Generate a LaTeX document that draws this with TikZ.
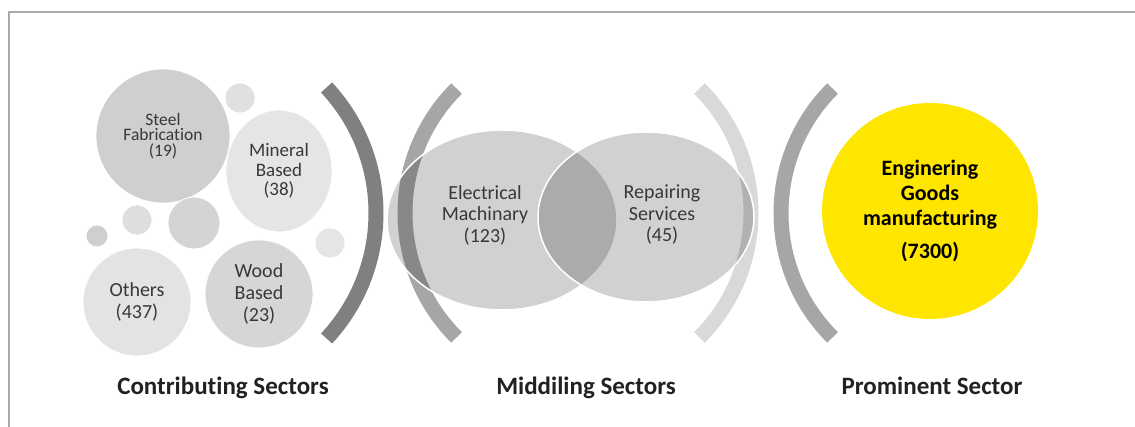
\documentclass[tikz,border=0pt]{standalone}
\usepackage{fontspec}
\setmainfont{Carlito}[Ligatures=NoCommon]
\usetikzlibrary{shapes.geometric}
\definecolor{goods yellow}{RGB}{255,230,0}
\begin{document}
\begin{tikzpicture}
  [x=1pt,y=1pt,
   bubble/.style={circle,draw=white,line width=0.8pt,inner sep=0pt,
     text=black!78,align=center,font=\fontsize{20}{22}\selectfont},
   bracket/.style={line width=15pt},
   venn/.style={ellipse,draw=white,line width=1.5pt,inner sep=0pt,
     fill=black,fill opacity=0.18},
   venn text/.style={text=black!78,align=center,font=\fontsize{20}{21.5}\selectfont},
   sector label/.style={anchor=base,text=black!87,font=\bfseries\fontsize{25}{30}\selectfont}]
  \useasboundingbox (0,0) rectangle (1135,427);
  % frame
  \draw
    [line width=2pt,black!33]
    (9,0) -- (9,415) -- (1135,415)
  ;
  % contributing bubbles
  \node (steel fab)
    [bubble,fill=black!19,minimum size=134pt,font=\fontsize{17.5}{15.5}\selectfont]
    at (163,291) {Steel\\Fabrication\\(19)};
  \node (dot top) [bubble,fill=black!12,minimum size=30pt] at (240,329) {};
  \node (mineral)
    [bubble,ellipse,fill=black!10,minimum width=106pt,minimum height=122pt,
     font=\fontsize{19}{19.5}\selectfont]
    at (279,256) {Mineral\\Based\\(38)};
  \node (dot small) [bubble,fill=black!19,minimum size=22pt] at (97,191) {};
  \node (dot mid) [bubble,fill=black!13,minimum size=30pt] at (137,207) {};
  \node (dot big) [bubble,fill=black!17,minimum size=52pt] at (194,204) {};
  \node (dot right) [bubble,fill=black!10,minimum size=30pt] at (330,184) {};
  \node (others) [bubble,fill=black!11,minimum size=108pt] at (137,125) {Others\\(437)};
  \node (wood) [bubble,fill=black!16,minimum size=108pt] at (259,133) {Wood\\Based\\(23)};
  % brackets
  \coordinate (contrib centre) at (192,214);
  \coordinate (middle left centre) at (581,214);
  \coordinate (middle right centre) at (575,214);
  \coordinate (prominent centre) at (957,214);
  \draw
    [bracket,black!50]
    (contrib centre) ++(-43:184)
    arc [start angle=-43,end angle=43,radius=184]
  ;
  \draw
    [bracket,black!35]
    (middle left centre) ++(135:176)
    arc [start angle=135,end angle=225,radius=176]
  ;
  \draw
    [bracket,black!15]
    (middle right centre) ++(-45:176)
    arc [start angle=-45,end angle=45,radius=176]
  ;
  \draw
    [bracket,black!35]
    (prominent centre) ++(135:176)
    arc [start angle=135,end angle=225,radius=176]
  ;
  % middling sectors
  \node (electrical) [venn,minimum width=230pt,minimum height=180pt] at (502,207) {};
  \node (repairing) [venn,minimum width=216pt,minimum height=170pt] at (646,210) {};
  \node (electrical text) [venn text] at (485,212) {Electrical\\Machinary\\(123)};
  \node (repairing text) [venn text] at (662,212) {Repairing\\Services\\(45)};
  % prominent sector
  \node (engineering)
    [circle,fill=goods yellow,minimum size=216pt,inner sep=0pt,align=center,
     font=\bfseries\fontsize{22}{25}\selectfont]
    at (930,216) {Enginering\\Goods\\manufacturing\\[8pt](7300)};
  % labels
  \node (contrib label) [sector label] at (223,32) {Contributing Sectors};
  \node (middle label) [sector label] at (586,32) {Middiling Sectors};
  \node (prominent label) [sector label] at (932,32) {Prominent Sector};
\end{tikzpicture}
\end{document}
